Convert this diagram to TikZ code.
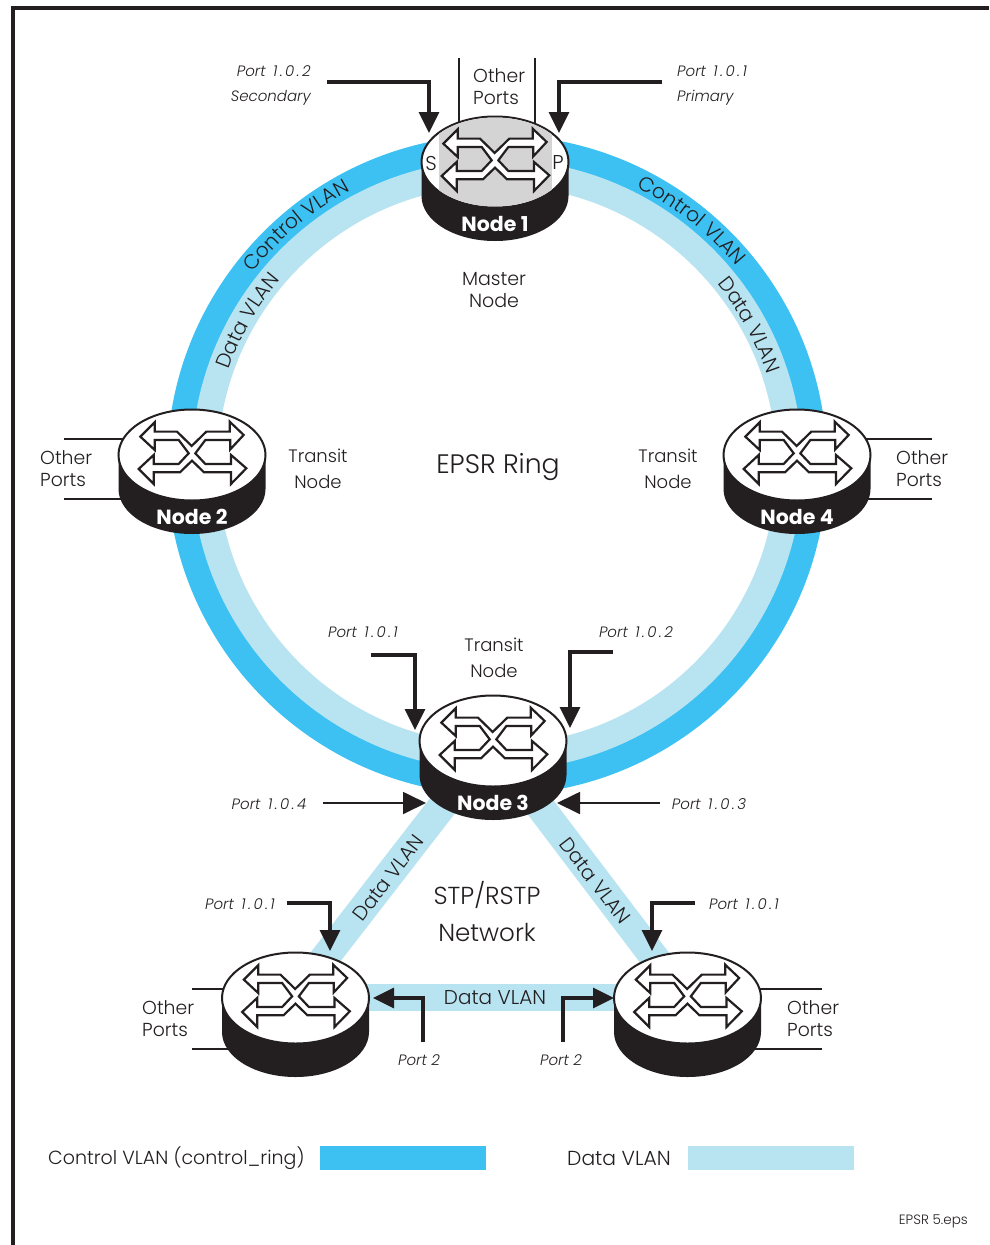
\documentclass[tikz,border=0pt]{standalone}
\usepackage{fontspec}
\setmainfont{Poppins}[UprightFont=* Light,ItalicFont=* Light Italic,BoldFont=* Bold]
\usetikzlibrary{arrows.meta,decorations.text}
\definecolor{ctl}{HTML}{3DC1F3}
\definecolor{dat}{HTML}{B8E4F1}
\definecolor{ink}{HTML}{231F20}
\newcommand{\fsA}{\fontsize{18.8}{22}\selectfont}
\newcommand{\fsP}{\fontsize{15}{25}\selectfont\itshape}
\newcommand{\fsC}{\fontsize{20.3}{24}\selectfont}
\newcommand{\pv}[3]{Port\ \kern3pt#1\kern2.5pt.\kern2.5pt#2\kern2.5pt.\kern2.5pt#3}
\tikzset{
 txt/.style={text=ink,inner sep=0pt,align=center,font=\fsA},
 othertxt/.style={text=ink,inner sep=0pt,align=left,anchor=west,font=\fsA},
 porttxt/.style={text=ink,inner sep=0pt,font=\fsP},
 fatarrow/.style={draw=ink,line width=3.4pt,-{Triangle[length=21pt,width=20pt]}},
 thinarrow/.style={draw=ink,line width=1.8pt,-{Triangle[length=23pt,width=22pt]}},
 portline/.style={draw=ink,line width=1.8pt},
 ctlband/.style={draw=ctl,line width=25pt},
 datband/.style={draw=dat,line width=26pt},
 onarc/.style={decoration={text along path,text align=center,text={|\fsC\color{ink}|#1}},decorate},
}
% \router{name}{cx}{cy}{label}
\newcommand{\router}[5][]{%
 \coordinate (#2) at (#3,#4);
 \fill[ink] (#3-73.5,#4) -- (#3-73.5,#4+34) arc[start angle=180,end angle=0,x radius=73.5,y radius=45] -- (#3+73.5,#4) -- cycle;
 \draw[ink,line width=2pt,fill=white] (#3,#4) ellipse[x radius=73.5,y radius=45.5];
 #1
 \begin{scope}[shift={(#3,#4-1.7)},x=0.3333pt,y=-0.3333pt]
  \draw[ink,line width=2.2pt,fill=white,line join=miter] (-155,-50) -- (-112,-93) -- (-112,-65) -- (-45,-65) -- (-1,-22) -- (43,-65) -- (113,-65) -- (113,-95) -- (155,-55) -- (115,-12) -- (115,-40) -- (40,-40) -- (10,0) -- (40,32) -- (117,32) -- (117,5) -- (163,45) -- (117,92) -- (117,57) -- (36,57) -- (0,22) -- (-36,57) -- (-115,57) -- (-115,92) -- (-160,47) -- (-115,5) -- (-115,32) -- (-40,32) -- (-10,0) -- (-40,-40) -- (-112,-40) -- (-112,-10) -- cycle;
 \end{scope}
 \node[text=white,inner sep=0pt,font=\fontsize{20.5}{24}\selectfont\bfseries] (#2label) at (#3,#4+62) {#5};
}
\begin{document}
\begin{tikzpicture}[x=1pt,y=-1pt]
\useasboundingbox (0,0) rectangle (989,1245);
\fill[white] (0,0) rectangle (989,1245);
\coordinate (frameA) at (989,8);
\coordinate (frameB) at (13,8);
\coordinate (frameC) at (13,1245);
\draw[ink,line width=3.2pt] (frameA) -- (frameB) -- (frameC);
\coordinate (ringc) at (497,465);
% ring
\draw[ctlband] (ringc) circle[radius=317.5];
\draw[datband] (ringc) circle[radius=292.5];
% STP triangle
\coordinate (n3a) at (447,800);
\coordinate (n3b) at (535,800);
\coordinate (lla) at (303,986);
\coordinate (lrb) at (676,986);
\coordinate (llh) at (340,997.5);
\coordinate (lrh) at (640,997.5);
\draw[draw=dat,line width=29pt] (n3a) -- (lla);
\draw[draw=dat,line width=29pt] (n3b) -- (lrb);
\draw[draw=dat,line width=27pt] (llh) -- (lrh);
% other-ports lines
\coordinate (o1a) at (459,58); \coordinate (o1b) at (459,128);
\coordinate (o1c) at (535,58); \coordinate (o1d) at (535,128);
\draw[portline] (o1a) -- (o1b); \draw[portline] (o1c) -- (o1d);
\coordinate (o2a) at (64,439); \coordinate (o2b) at (130,439);
\coordinate (o2c) at (64,499); \coordinate (o2d) at (130,499);
\draw[portline] (o2a) -- (o2b); \draw[portline] (o2c) -- (o2d);
\coordinate (o4a) at (932,439); \coordinate (o4b) at (860,439);
\coordinate (o4c) at (932,499); \coordinate (o4d) at (860,499);
\draw[portline] (o4a) -- (o4b); \draw[portline] (o4c) -- (o4d);
\coordinate (o5a) at (192,989); \coordinate (o5b) at (235,989);
\coordinate (o5c) at (192,1049); \coordinate (o5d) at (235,1049);
\draw[portline] (o5a) -- (o5b); \draw[portline] (o5c) -- (o5d);
\coordinate (o6a) at (822,989); \coordinate (o6b) at (750,989);
\coordinate (o6c) at (822,1049); \coordinate (o6d) at (750,1049);
\draw[portline] (o6a) -- (o6b); \draw[portline] (o6c) -- (o6d);
% routers
\router[{\begin{scope}\clip (495,162) ellipse[x radius=72.5,y radius=44.5];\fill[black!17] (439,110) rectangle (552,215);\end{scope}}]{n1}{495}{162}{Node 1}
\router{n2}{192}{455}{Node 2}
\router{n4}{797}{455}{Node 4}
\router{n3}{493}{741}{Node 3}
\router{n5}{295.5}{998}{}
\router{n6}{687.5}{998}{}
% ring text
\path[onarc={Control VLAN}] ([shift={(-146:311)}]ringc) arc[start angle=-146,end angle=-114,radius=311];
\path[onarc={Control VLAN}] ([shift={(-67.5:311)}]ringc) arc[start angle=-67.5,end angle=-35.5,radius=311];
\path[onarc={Data VLAN}] ([shift={(-166:285)}]ringc) arc[start angle=-166,end angle=-134,radius=285];
\path[onarc={Data VLAN}] ([shift={(-45:285)}]ringc) arc[start angle=-45,end angle=-13,radius=285];
% arrows
\coordinate (a1) at (327,82); \coordinate (a1c) at (429,82); \coordinate (a1t) at (429,133);
\draw[fatarrow] (a1) -- (a1c) -- (a1t);
\coordinate (a2) at (662,82); \coordinate (a2c) at (559,82); \coordinate (a2t) at (559,133);
\draw[fatarrow] (a2) -- (a2c) -- (a2t);
\coordinate (a3) at (371,655); \coordinate (a3c) at (415,655); \coordinate (a3t) at (415,730);
\draw[fatarrow] (a3) -- (a3c) -- (a3t);
\coordinate (a4) at (613,652); \coordinate (a4c) at (570,652); \coordinate (a4t) at (570,728);
\draw[fatarrow] (a4) -- (a4c) -- (a4t);
\coordinate (a5) at (323,803); \coordinate (a5t) at (426,803);
\draw[thinarrow] (a5) -- (a5t);
\coordinate (a6) at (660,803); \coordinate (a6t) at (557,803);
\draw[thinarrow] (a6) -- (a6t);
\coordinate (a7) at (287,903); \coordinate (a7c) at (330,903); \coordinate (a7t) at (330,951);
\draw[fatarrow] (a7) -- (a7c) -- (a7t);
\coordinate (a8) at (695,903); \coordinate (a8c) at (652,903); \coordinate (a8t) at (652,951);
\draw[fatarrow] (a8) -- (a8c) -- (a8t);
\coordinate (a9) at (423,1042); \coordinate (a9c) at (423,998); \coordinate (a9t) at (373,998);
\draw[fatarrow] (a9) -- (a9c) -- (a9t);
\coordinate (a10) at (563,1042); \coordinate (a10c) at (563,998); \coordinate (a10t) at (614,998);
\draw[fatarrow] (a10) -- (a10c) -- (a10t);
% labels
\node[txt,font=\fontsize{20}{22}\selectfont] (tsP) at (558,163) {P};
\node[txt,font=\fontsize{20}{22}\selectfont] (tsS) at (431,163) {S};
\node[othertxt] (ot1) at (473,87) {Other\\Ports};
\node[othertxt] (ot2) at (40,469) {Other\\Ports};
\node[othertxt] (ot4) at (896,469) {Other\\Ports};
\node[othertxt] (ot5) at (142,1019) {Other\\Ports};
\node[othertxt] (ot6) at (787,1019) {Other\\Ports};
\node[txt,font=\fontsize{19}{22}\selectfont] (master) at (494,290) {Master\\Node};
\node[txt,font=\fontsize{18}{26}\selectfont] (tr2) at (318,469) {Transit\\Node};
\node[txt,font=\fontsize{18}{26}\selectfont] (tr4) at (668,469) {Transit\\Node};
\node[txt,font=\fontsize{18}{26}\selectfont] (tr3) at (494,658) {Transit\\Node};
\node[txt,font=\fontsize{26.7}{30}\selectfont] (epsr) at (498,467) {EPSR Ring};
\node[txt,font=\fontsize{24.6}{37}\selectfont] (stp) at (487,912) {STP/RSTP\\Network};
\node[porttxt,align=right,anchor=east] (p1) at (311,86) {\pv{1}{0}{2}\\Secondary};
\node[porttxt,align=left,anchor=west] (p2) at (677,86) {\pv{1}{0}{1}\\Primary};
\node[porttxt] (p3) at (363,632) {\pv{1}{0}{1}};
\node[porttxt] (p4) at (636,632) {\pv{1}{0}{2}};
\node[porttxt] (p5) at (269,804) {\pv{1}{0}{4}};
\node[porttxt] (p6) at (709,804) {\pv{1}{0}{3}};
\node[porttxt] (p7) at (240,904) {\pv{1}{0}{1}};
\node[porttxt] (p8) at (744,904) {\pv{1}{0}{1}};
\node[porttxt] (p9) at (419,1060) {Port 2};
\node[porttxt] (p10) at (561,1060) {Port 2};
\node[txt,font=\fontsize{20}{24}\selectfont,rotate=-52.5] (dv1) at (595,881) {Data VLAN};
\node[txt,font=\fontsize{20}{24}\selectfont,rotate=52.5] (dv2) at (388,878) {Data VLAN};
\node[txt,font=\fontsize{20}{24}\selectfont] (dv3) at (495,998) {Data VLAN};
% legend
\node[txt,anchor=west,font=\fontsize{19}{24}\selectfont] (lg1) at (48,1158) {Control VLAN (control\_ring)};
\node[fill=ctl,minimum width=166pt,minimum height=24pt,inner sep=0pt,anchor=west] (lgb1) at (320,1158) {};
\node[txt,anchor=west,font=\fontsize{20.3}{24}\selectfont] (lg2) at (567,1158) {Data VLAN};
\node[fill=dat,minimum width=166pt,minimum height=24pt,inner sep=0pt,anchor=west] (lgb2) at (688,1158) {};
\node[txt,anchor=east,font=\fontsize{13.5}{16}\selectfont] (eps) at (968,1221) {EPSR 5.eps};
\end{tikzpicture}
\end{document}
